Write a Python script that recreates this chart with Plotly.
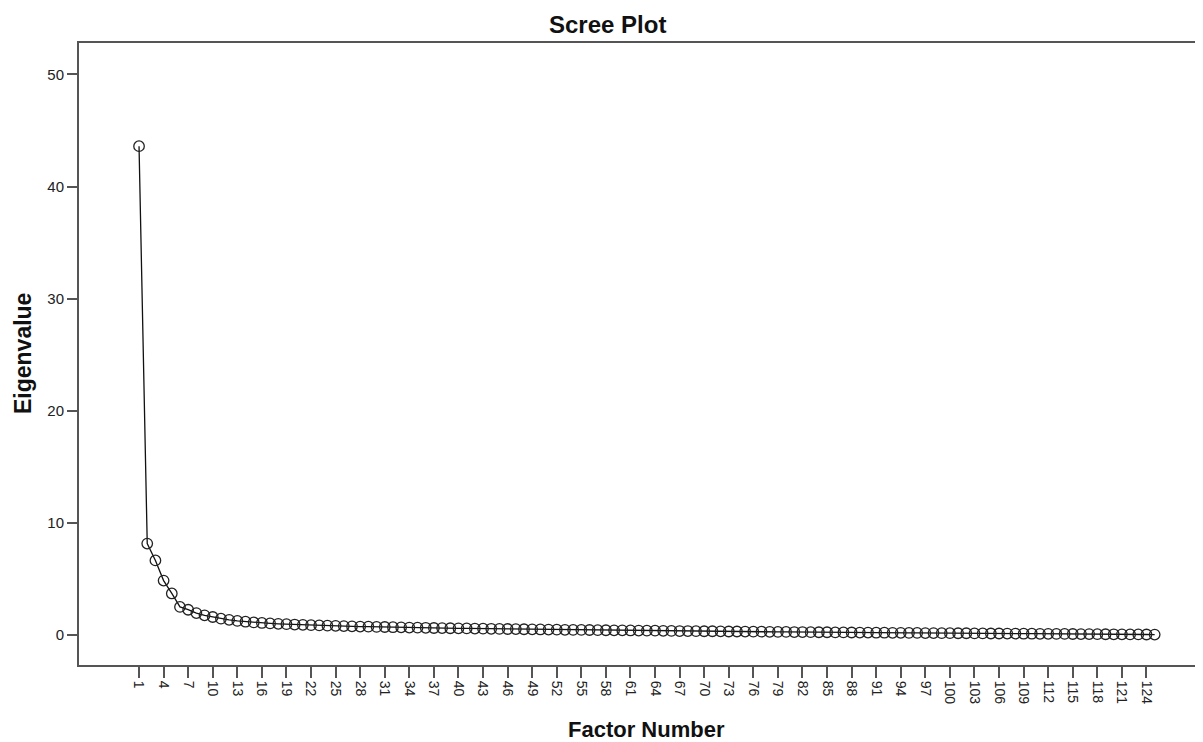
import plotly.graph_objects as go

# Data: factor numbers and eigenvalues
factor_numbers = list(range(1, 126))
eigenvalues = [
    43.6, 8.15, 6.65, 4.85, 3.7, 2.5, 2.25, 1.95, 1.75, 1.6,
    1.45, 1.35, 1.25, 1.18, 1.12, 1.07, 1.03, 0.99, 0.96, 0.93,
    0.90, 0.87, 0.85, 0.83, 0.81, 0.79, 0.77, 0.75, 0.74, 0.72,
    0.71, 0.69, 0.68, 0.66, 0.65, 0.64, 0.62, 0.61, 0.60, 0.59,
    0.58, 0.57, 0.56, 0.55, 0.54, 0.53, 0.52, 0.51, 0.50, 0.49,
    0.48, 0.47, 0.46, 0.45, 0.45, 0.44, 0.43, 0.42, 0.41, 0.41,
    0.40, 0.39, 0.38, 0.38, 0.37, 0.36, 0.35, 0.35, 0.34, 0.33,
    0.33, 0.32, 0.31, 0.31, 0.30, 0.29, 0.29, 0.28, 0.27, 0.27,
    0.26, 0.26, 0.25, 0.24, 0.24, 0.23, 0.23, 0.22, 0.21, 0.21,
    0.20, 0.20, 0.19, 0.19, 0.18, 0.18, 0.17, 0.17, 0.16, 0.16,
    0.15, 0.15, 0.14, 0.14, 0.13, 0.13, 0.12, 0.12, 0.11, 0.11,
    0.10, 0.10, 0.095, 0.09, 0.085, 0.08, 0.075, 0.07, 0.065, 0.06,
    0.055, 0.05, 0.045, 0.04, 0.035,
]
x_tick_values = list(range(1, 126, 3))
y_tick_values = [0, 10, 20, 30, 40, 50]

title_text = "Scree Plot"
x_title = "Factor Number"
y_title = "Eigenvalue"

FONT = "Liberation Sans, Arial, sans-serif"
AXIS_COLOR = "#555555"

fig = go.Figure()
fig.add_trace(go.Scatter(
    x=factor_numbers,
    y=eigenvalues,
    mode="lines+markers",
    line=dict(color="#111111", width=1.3),
    marker=dict(symbol="circle-open", size=10.5, color="#222222",
                line=dict(color="#222222", width=1.3)),
    showlegend=False,
    hoverinfo="x+y",
))

# The page body has an 8px margin, so the figure is sized to fit the window.
fig.update_layout(
    width=1195,
    height=734,
    margin=dict(l=71, r=0, t=35, b=77),
    paper_bgcolor="white",
    plot_bgcolor="white",
    font=dict(family=FONT, color="#222222", size=14),
    xaxis=dict(
        automargin=False,
        range=[-6.33, 130.9],
        tickmode="array",
        tickvals=x_tick_values,
        ticktext=[str(v) for v in x_tick_values],
        tickangle=90,
        ticks="outside",
        ticklen=11,
        tickwidth=1.5,
        tickcolor=AXIS_COLOR,
        showline=True,
        linecolor=AXIS_COLOR,
        linewidth=2,
        mirror=True,
        showgrid=False,
        zeroline=False,
        tickfont=dict(family=FONT, size=14, color="#222222"),
    ),
    yaxis=dict(
        automargin=False,
        range=[-2.68, 52.8],
        tickmode="array",
        tickvals=y_tick_values,
        ticks="outside",
        ticklen=10,
        tickwidth=2,
        tickcolor=AXIS_COLOR,
        showline=True,
        linecolor=AXIS_COLOR,
        linewidth=2,
        showgrid=False,
        zeroline=False,
        tickfont=dict(family=FONT, size=15, color="#222222"),
    ),
    annotations=[
        dict(text="<b>" + title_text + "</b>", xref="paper", yref="paper",
             x=0.4698, y=1.0305, xanchor="center", yanchor="middle",
             showarrow=False, font=dict(family=FONT, size=24, color="#111111")),
        dict(text="<b>" + x_title + "</b>", xref="paper", yref="paper",
             x=0.5053, y=-0.1037, xanchor="center", yanchor="middle",
             showarrow=False, font=dict(family=FONT, size=22, color="#111111")),
        dict(text="<b>" + y_title + "</b>", xref="paper", yref="paper",
             x=-0.0498, y=0.5, xanchor="center", yanchor="middle",
             textangle=-90, showarrow=False,
             font=dict(family=FONT, size=23, color="#111111")),
    ],
)

fig.write_html("out.html")
